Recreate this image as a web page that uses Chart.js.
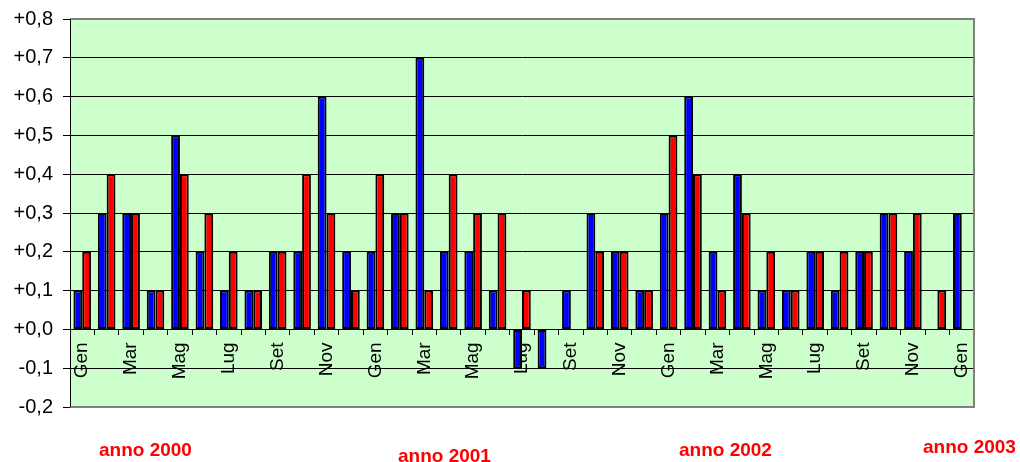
<!DOCTYPE html>
<html>
<head>
<meta charset="utf-8">
<script src="https://cdn.jsdelivr.net/npm/chart.js@4/dist/chart.umd.min.js"></script>
<style>
  html, body { margin: 0; padding: 0; background: #fff; }
  #wrap { position: relative; width: 1020px; height: 462px; }
  .anno {
    position: absolute;
    color: #ff0000;
    font: bold 19px "Liberation Sans", Arial, sans-serif;
    line-height: 22px;
    white-space: nowrap;
  }
</style>
</head>
<body>
<div id="wrap">
  <canvas id="grafico" width="1020" height="462"></canvas>
  <div class="anno" style="left:99px; top:439px;">anno 2000</div>
  <div class="anno" style="left:398px; top:445px;">anno 2001</div>
  <div class="anno" style="left:679px; top:439px;">anno 2002</div>
  <div class="anno" style="left:923px; top:436px;">anno 2003</div>
</div>
<script>
// mesi da Gen 2000 a Gen 2003
const mesi = [
  'Gen', 'Feb', 'Mar', 'Apr', 'Mag', 'Giu', 'Lug', 'Ago', 'Set', 'Ott', 'Nov', 'Dic',
  'Gen', 'Feb', 'Mar', 'Apr', 'Mag', 'Giu', 'Lug', 'Ago', 'Set', 'Ott', 'Nov', 'Dic',
  'Gen', 'Feb', 'Mar', 'Apr', 'Mag', 'Giu', 'Lug', 'Ago', 'Set', 'Ott', 'Nov', 'Dic',
  'Gen'
];

const serieBlu = [
  0.1, 0.3, 0.3, 0.1, 0.5, 0.2, 0.1, 0.1, 0.2, 0.2, 0.6, 0.2,
  0.2, 0.3, 0.7, 0.2, 0.2, 0.1, -0.1, -0.1, 0.1, 0.3, 0.2, 0.1,
  0.3, 0.6, 0.2, 0.4, 0.1, 0.1, 0.2, 0.1, 0.2, 0.3, 0.2, null,
  0.3
];

const serieRossa = [
  0.2, 0.4, 0.3, 0.1, 0.4, 0.3, 0.2, 0.1, 0.2, 0.4, 0.3, 0.1,
  0.4, 0.3, 0.1, 0.4, 0.3, 0.3, 0.1, null, null, 0.2, 0.2, 0.1,
  0.5, 0.4, 0.1, 0.3, 0.2, 0.1, 0.2, 0.2, 0.2, 0.3, 0.3, 0.1,
  null
];

const yMin = -0.2;
const yMax = 0.8;
const yStep = 0.1;

function formatTick(v) {
  const r = Math.round(v * 10) / 10;
  const s = Math.abs(r).toFixed(1).replace('.', ',');
  return (r < 0 ? '-' : '+') + s;
}

// sfondo verde e bordo grigio dell'area del grafico
const plotArea = {
  id: 'plotArea',
  beforeDraw(chart) {
    const { ctx, chartArea: a } = chart;
    ctx.save();
    ctx.fillStyle = '#ccffcc';
    ctx.fillRect(a.left, a.top, a.right - a.left, a.bottom - a.top);
    ctx.restore();
  },
  afterDraw(chart) {
    const { ctx, chartArea: a } = chart;
    ctx.save();
    ctx.strokeStyle = '#808080';
    ctx.lineWidth = 2;
    ctx.beginPath();
    ctx.moveTo(a.left, a.top);
    ctx.lineTo(a.right, a.top);
    ctx.lineTo(a.right, a.bottom);
    ctx.lineTo(a.left, a.bottom);
    ctx.stroke();
    ctx.strokeStyle = '#000';
    ctx.lineWidth = 1;
    ctx.beginPath();
    ctx.moveTo(a.left + 0.5, a.top);
    ctx.lineTo(a.left + 0.5, a.bottom);
    ctx.stroke();
    ctx.restore();
  }
};

const ctx = document.getElementById('grafico').getContext('2d');

new Chart(ctx, {
  type: 'bar',
  data: {
    labels: mesi,
    datasets: [
      {
        label: 'blu',
        data: serieBlu,
        backgroundColor: '#0000ff',
        borderColor: '#000',
        borderWidth: 2,
        borderSkipped: false
      },
      {
        label: 'rosso',
        data: serieRossa,
        backgroundColor: '#ff0000',
        borderColor: '#000',
        borderWidth: 2,
        borderSkipped: false
      }
    ]
  },
  options: {
    responsive: false,
    animation: false,
    datasets: {
      bar: { barPercentage: 1, categoryPercentage: 0.72 }
    },
    layout: {
      padding: { left: 0, right: 46, top: 19, bottom: 55 }
    },
    plugins: {
      legend: { display: false },
      tooltip: { enabled: false }
    },
    scales: {
      y: {
        min: yMin,
        max: yMax,
        afterFit(scale) {
          scale.width = 70;
          scale.paddingTop = 0;
          scale.paddingBottom = 0;
        },
        ticks: {
          stepSize: yStep,
          color: '#000',
          padding: 10,
          font: { family: '"Liberation Sans", Arial, sans-serif', size: 20 },
          callback: formatTick
        },
        grid: {
          color: c => {
            const v = Math.round(c.tick.value * 10) / 10;
            return (v === yMin || v === yMax) ? 'rgba(0,0,0,0)' : '#000';
          },
          tickColor: '#000',
          tickLength: 7,
          lineWidth: 1
        },
        border: { display: true, color: '#000', width: 1 }
      },
      x: {
        type: 'category',
        position: { y: 0 },
        offset: true,
        ticks: {
          autoSkip: false,
          minRotation: 90,
          maxRotation: 90,
          color: '#000',
          padding: 8,
          font: { family: '"Liberation Sans", Arial, sans-serif', size: 19 },
          callback: (v, i) => (i % 2 === 0 ? mesi[i] : '')
        },
        grid: {
          offset: true,
          drawOnChartArea: false,
          drawTicks: true,
          tickLength: 5,
          color: '#000',
          tickColor: '#000'
        },
        border: { display: true, color: '#000', width: 1 }
      }
    }
  },
  plugins: [plotArea]
});
</script>
</body>
</html>
